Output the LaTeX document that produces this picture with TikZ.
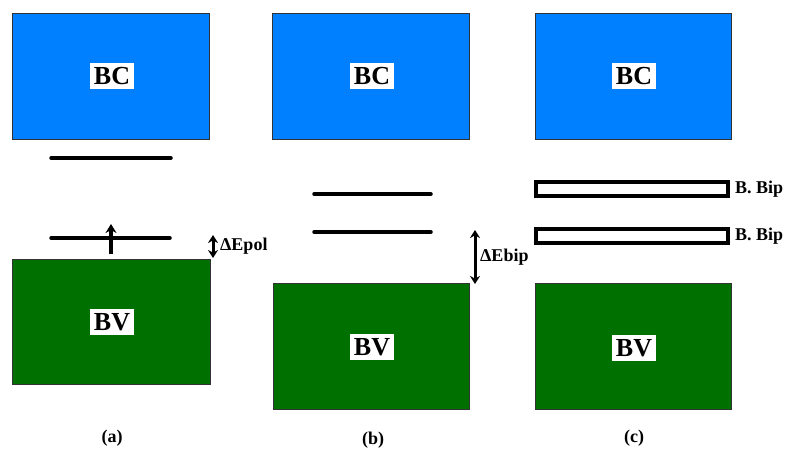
\documentclass[tikz,border=0pt]{standalone}
\usepackage{fontspec}
\setmainfont{Liberation Serif}
\usetikzlibrary{arrows.meta}
\definecolor{bcblue}{RGB}{0,128,255}
\definecolor{bvgreen}{RGB}{0,112,0}
\tikzset{
  bandbc/.style={draw=black!80, line width=1pt, fill=bcblue},
  bandbv/.style={draw=black!80, line width=1pt, fill=bvgreen},
  blabel/.style={fill=white, inner xsep=4pt, inner ysep=4pt, font=\fontsize{26}{28}\selectfont\bfseries},
  level/.style={line width=3.5pt, line cap=round},
  bipbox/.style={draw=black, line width=3.5pt, fill=white},
  small/.style={font=\fontsize{18}{20}\selectfont\bfseries, inner sep=1pt},
  dimarrow/.style={line width=3pt, {Stealth[length=8pt,width=10pt]}-{Stealth[length=8pt,width=10pt]}}
}
\begin{document}
\begin{tikzpicture}[x=1pt,y=-1pt]
\useasboundingbox (0,0) rectangle (786,450);
% (a)
\draw[bandbc] (12,13) rectangle (209,139);
\node[blabel] (bca) at (112,76) {BC};
\draw[bandbv] (12,259) rectangle (210,384);
\node[blabel] (bva) at (112,322) {BV};
\coordinate (a1l) at (51,158); \coordinate (a1r) at (171,158);
\draw[level] (a1l) -- (a1r);
\coordinate (a2l) at (51,238); \coordinate (a2r) at (170,238);
\draw[level] (a2l) -- (a2r);
\coordinate (arb) at (111,254); \coordinate (art) at (111,224);
\draw[line width=3.5pt, -{Stealth[length=9pt,width=11pt]}] (arb) -- (art);
\coordinate (pa) at (213,235); \coordinate (pb) at (213,258);
\draw[dimarrow] (pa) -- (pb);
\node[small, anchor=west] (epol) at (219,246) {ΔEpol};
\node[small] (capa) at (112,438) {(a)};
% (b)
\draw[bandbc] (272,13) rectangle (469,139);
\node[blabel] (bcb) at (372,76) {BC};
\draw[bandbv] (273,283) rectangle (469,409);
\node[blabel] (bvb) at (372,347) {BV};
\coordinate (b1l) at (314,194); \coordinate (b1r) at (431,194);
\draw[level] (b1l) -- (b1r);
\coordinate (b2l) at (314,232); \coordinate (b2r) at (431,232);
\draw[level] (b2l) -- (b2r);
\coordinate (pc) at (475,230); \coordinate (pd) at (475,284);
\draw[dimarrow] (pc) -- (pd);
\node[small, anchor=west] (ebip) at (479,257) {ΔEbip};
\node[small] (capb) at (373,440) {(b)};
% (c)
\draw[bandbc] (535,13) rectangle (731,139);
\node[blabel] (bcc) at (634,76) {BC};
\draw[bandbv] (535,283) rectangle (731,409);
\node[blabel] (bvc) at (634,348) {BV};
\draw[bipbox] (536,182) rectangle (728,196);
\node[small, anchor=west] (bip1) at (734,189) {B. Bip};
\draw[bipbox] (536,229) rectangle (728,243);
\node[small, anchor=west] (bip2) at (734,236) {B. Bip};
\node[small] (capc) at (634,438) {(c)};
\end{tikzpicture}
\end{document}
